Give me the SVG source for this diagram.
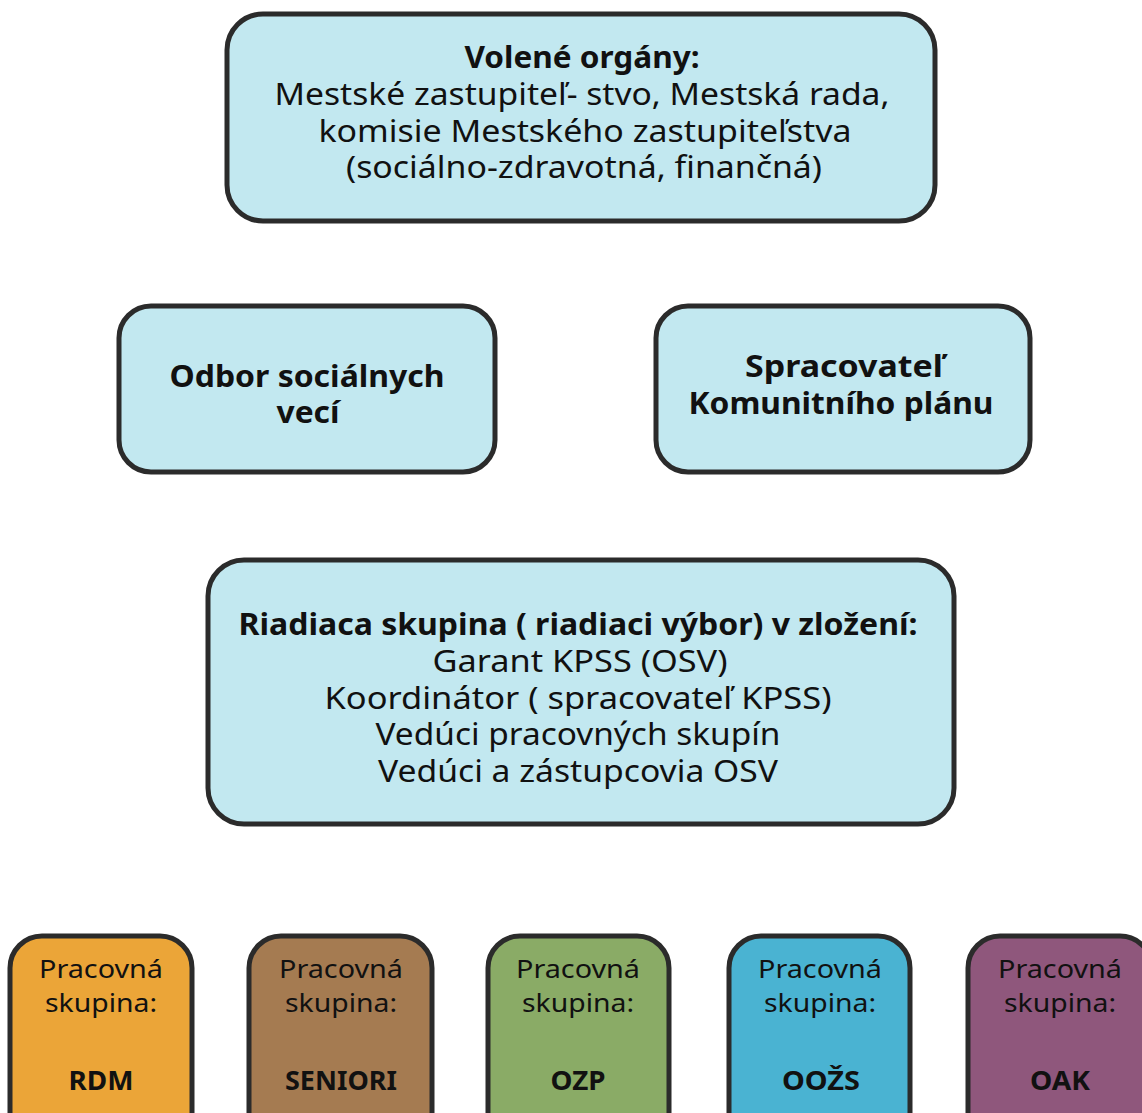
<svg xmlns="http://www.w3.org/2000/svg" width="1142" height="1113" viewBox="0 0 1142 1113">
<style>
.box{stroke:#2b2b2b;stroke-width:5}
.blue{fill:#c2e8f0}
text{font-family:"Noto Sans","Open Sans","DejaVu Sans",sans-serif;fill:#111;text-anchor:middle}
.b{font-weight:bold}
.t{font-size:31px}
.m{font-size:31px}
.s{font-size:26px}
</style>
<rect width="1142" height="1113" fill="#ffffff"/>
<g id="connectors"></g>
<g id="volene">
<rect class="box blue" x="227" y="14" width="708" height="207" rx="36"/>
<text class="t b" x="582" y="68" textLength="235" lengthAdjust="spacingAndGlyphs">Volené orgány:</text>
<text class="t" x="582" y="105" textLength="615" lengthAdjust="spacingAndGlyphs">Mestské zastupiteľ- stvo, Mestská rada,</text>
<text class="t" x="585" y="142" textLength="533" lengthAdjust="spacingAndGlyphs">komisie Mestského zastupiteľstva</text>
<text class="t" x="584" y="178" textLength="476" lengthAdjust="spacingAndGlyphs">(sociálno-zdravotná, finančná)</text>
</g>
<g id="odbor">
<rect class="box blue" x="119" y="306" width="376" height="166" rx="32"/>
<text class="m b" x="307" y="387" textLength="275" lengthAdjust="spacingAndGlyphs">Odbor sociálnych</text>
<text class="m b" x="308" y="423" textLength="63" lengthAdjust="spacingAndGlyphs">vecí</text>
</g>
<g id="spracovatel">
<rect class="box blue" x="656" y="306" width="374" height="166" rx="32"/>
<text class="m b" x="844" y="377" textLength="198" lengthAdjust="spacingAndGlyphs">Spracovateľ</text>
<text class="m b" x="841" y="414" textLength="305" lengthAdjust="spacingAndGlyphs">Komunitního plánu</text>
</g>
<g id="riadiaca">
<rect class="box blue" x="208" y="560" width="746" height="264" rx="36"/>
<text class="t b" x="578" y="635" textLength="679" lengthAdjust="spacingAndGlyphs">Riadiaca skupina ( riadiaci výbor) v zložení:</text>
<text class="t" x="580" y="672" textLength="295" lengthAdjust="spacingAndGlyphs">Garant KPSS (OSV)</text>
<text class="t" x="578" y="709" textLength="507" lengthAdjust="spacingAndGlyphs">Koordinátor ( spracovateľ KPSS)</text>
<text class="t" x="578" y="745" textLength="405" lengthAdjust="spacingAndGlyphs">Vedúci pracovných skupín</text>
<text class="t" x="578" y="782" textLength="400" lengthAdjust="spacingAndGlyphs">Vedúci a zástupcovia OSV</text>
</g>
<g id="rdm">
<rect class="box" fill="#eba538" x="10" y="936" width="182" height="220" rx="32"/>
<text class="s" x="101" y="978" textLength="124" lengthAdjust="spacingAndGlyphs">Pracovná</text>
<text class="s" x="101" y="1012" textLength="112" lengthAdjust="spacingAndGlyphs">skupina:</text>
<text class="s b" x="101" y="1090" textLength="65" lengthAdjust="spacingAndGlyphs">RDM</text>
</g>
<g id="seniori">
<rect class="box" fill="#a57b51" x="249" y="936" width="183" height="220" rx="32"/>
<text class="s" x="341" y="978" textLength="124" lengthAdjust="spacingAndGlyphs">Pracovná</text>
<text class="s" x="341" y="1012" textLength="112" lengthAdjust="spacingAndGlyphs">skupina:</text>
<text class="s b" x="341" y="1090" textLength="112" lengthAdjust="spacingAndGlyphs">SENIORI</text>
</g>
<g id="ozp">
<rect class="box" fill="#8aab66" x="488" y="936" width="181" height="220" rx="32"/>
<text class="s" x="578" y="978" textLength="124" lengthAdjust="spacingAndGlyphs">Pracovná</text>
<text class="s" x="578" y="1012" textLength="112" lengthAdjust="spacingAndGlyphs">skupina:</text>
<text class="s b" x="578" y="1090" textLength="55" lengthAdjust="spacingAndGlyphs">OZP</text>
</g>
<g id="oozs">
<rect class="box" fill="#4ab3d2" x="729" y="936" width="181" height="220" rx="32"/>
<text class="s" x="820" y="978" textLength="124" lengthAdjust="spacingAndGlyphs">Pracovná</text>
<text class="s" x="820" y="1012" textLength="112" lengthAdjust="spacingAndGlyphs">skupina:</text>
<text class="s b" x="821" y="1090" textLength="78" lengthAdjust="spacingAndGlyphs">OOŽS</text>
</g>
<g id="oak">
<rect class="box" fill="#8f577c" x="968" y="936" width="184" height="220" rx="32"/>
<text class="s" x="1060" y="978" textLength="124" lengthAdjust="spacingAndGlyphs">Pracovná</text>
<text class="s" x="1060" y="1012" textLength="112" lengthAdjust="spacingAndGlyphs">skupina:</text>
<text class="s b" x="1060" y="1090" textLength="60" lengthAdjust="spacingAndGlyphs">OAK</text>
</g>
</svg>
